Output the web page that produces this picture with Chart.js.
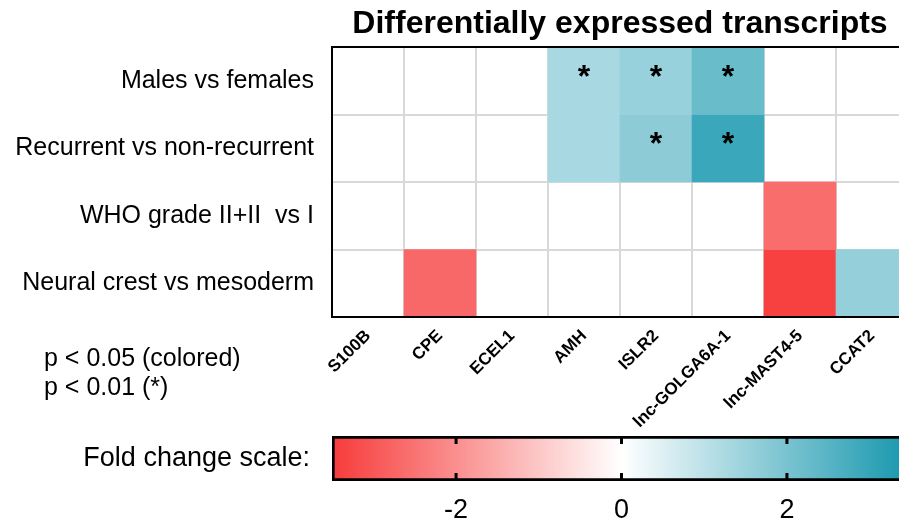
<!DOCTYPE html>
<html>
<head>
<meta charset="utf-8">
<script src="https://cdn.jsdelivr.net/npm/chart.js@4/dist/chart.umd.min.js"></script>
<style>
  body { margin: 0; width: 899px; height: 525px; overflow: hidden; background: #fff; position: relative; font-family: "Liberation Sans", Arial, sans-serif; }
  #heat { position: absolute; left: 0; top: 0; }
  #scale { position: absolute; left: 0; top: 432px; }
  .note { position: absolute; left: 44px; font-size: 25px; line-height: 29px; color: #000; white-space: pre; }
</style>
</head>
<body>
<canvas id="heat" width="915" height="432"></canvas>
<canvas id="scale" width="915" height="93"></canvas>
<div class="note" style="top:343px">p &lt; 0.05 (colored)</div>
<div class="note" style="top:372px">p &lt; 0.01 (*)</div>
<script>
// transcripts and comparisons
const genes = ["S100B", "CPE", "ECEL1", "AMH", "ISLR2", "lnc-GOLGA6A-1", "lnc-MAST4-5", "CCAT2"];
const comparisons = ["Males vs females", "Recurrent vs non-recurrent", "WHO grade II+II  vs I", "Neural crest vs mesoderm"];

// fold change (null = not significant)
const malesFC     = [null, null, null, 1.3, 1.55, 2.25, null, null];
const recurrentFC = [null, null, null, 1.3, 1.7, 2.95, null, null];
const whoFC       = [null, null, null, null, null, null, -2.6, null];
const neuralFC    = [null, -2.7, null, null, null, null, -3.4, 1.6];

// p < 0.01 marks
const malesStar     = [0, 0, 0, 1, 1, 1, 0, 0];
const recurrentStar = [0, 0, 0, 0, 1, 1, 0, 0];
const whoStar       = [0, 0, 0, 0, 0, 0, 0, 0];
const neuralStar    = [0, 0, 0, 0, 0, 0, 0, 0];

// colour scale
const scaleMin = -3.5;
const scaleMax = 3.5;
const scaleTicks = [-2, 0, 2];

const RED = [247, 59, 59];
const TEAL = [21, 150, 173];
const FONT = "'Liberation Sans', Arial, sans-serif";

function corDoValor(v) {
    const alvo = v < 0 ? RED : TEAL;
    const f = Math.min(1, Math.abs(v) / scaleMax);
    const c = alvo.map(x => Math.round(255 + (x - 255) * f));
    return `rgb(${c[0]},${c[1]},${c[2]})`;
}

const linhasFC = [malesFC, recurrentFC, whoFC, neuralFC];
const linhasStar = [malesStar, recurrentStar, whoStar, neuralStar];

const datasets = linhasFC.map((linha, r) => ({
    label: comparisons[r],
    data: linha.map(v => v === null ? null : [r, r + 1]),
    backgroundColor: linha.map(v => v === null ? "#fff" : corDoValor(v)),
    borderWidth: 0,
    barPercentage: 1,
    categoryPercentage: 1,
    grouped: false
}));

const molduraEStars = {
    id: "molduraEStars",
    afterDraw(chart) {
        const ctx = chart.ctx;
        const a = chart.chartArea;
        ctx.save();
        ctx.fillStyle = "#000";
        ctx.font = "bold 32px " + FONT;
        ctx.textAlign = "center";
        ctx.textBaseline = "middle";
        linhasStar.forEach((linha, r) => {
            const meta = chart.getDatasetMeta(r);
            linha.forEach((s, c) => {
                if (!s) return;
                const bar = meta.data[c];
                ctx.fillText("*", bar.x, (bar.y + bar.base) / 2 - 3);
            });
        });
        ctx.strokeStyle = "#000";
        ctx.lineWidth = 2;
        ctx.strokeRect(a.left, a.top, a.right - a.left, a.bottom - a.top);
        ctx.restore();
    }
};

new Chart(document.getElementById("heat"), {
    type: "bar",
    data: { labels: genes, datasets },
    options: {
        responsive: false,
        animation: false,
        layout: { padding: { left: 0, right: 7, top: 0, bottom: 0 } },
        plugins: {
            legend: { display: false },
            tooltip: { enabled: false },
            title: {
                display: true,
                text: "Differentially expressed transcripts",
                fullSize: false,
                color: "#000",
                font: { family: FONT, size: 32, weight: "bold", lineHeight: 1.2 },
                padding: { top: 5, bottom: 3.6 }
            }
        },
        scales: {
            x: {
                z: 1,
                offset: true,
                grid: { offset: true, color: "#d9d9d9", lineWidth: 2, drawTicks: false },
                border: { display: false },
                ticks: {
                    color: "#000",
                    font: { family: FONT, size: 17, weight: "bold" },
                    minRotation: 45,
                    maxRotation: 45,
                    padding: 9,
                    autoSkip: false
                },
                afterFit(scale) { scale.height = 115; scale.paddingLeft = 0; scale.paddingRight = 0; }
            },
            y: {
                z: 1,
                min: 0,
                max: 4,
                reverse: true,
                afterBuildTicks(scale) {
                    scale.ticks = [0, 0.5, 1, 1.5, 2, 2.5, 3, 3.5, 4].map(v => ({ value: v }));
                },
                grid: {
                    drawTicks: false,
                    lineWidth: 2,
                    color: (c) => (c.tick && c.tick.value % 1 === 0) ? "#d9d9d9" : "rgba(0,0,0,0)"
                },
                border: { display: false },
                ticks: {
                    color: "#000",
                    padding: 18,
                    font: { family: FONT, size: 25 },
                    callback: (v) => (v % 1 === 0) ? "" : comparisons[Math.floor(v)]
                },
                afterFit(scale) { scale.width = 332; scale.paddingTop = 0; scale.paddingBottom = 0; }
            }
        }
    },
    plugins: [molduraEStars]
});

// fold change colour bar
const marcasEscala = {
    id: "marcasEscala",
    afterDatasetsDraw(chart) {
        const ctx = chart.ctx;
        const a = chart.chartArea;
        const x = chart.scales.x;
        ctx.save();
        ctx.strokeStyle = "#000";
        ctx.lineWidth = 3;
        scaleTicks.forEach(t => {
            const px = x.getPixelForValue(t);
            ctx.beginPath();
            ctx.moveTo(px, a.top);
            ctx.lineTo(px, a.top + 8);
            ctx.moveTo(px, a.bottom);
            ctx.lineTo(px, a.bottom - 8);
            ctx.stroke();
        });
        ctx.restore();
    }
};

new Chart(document.getElementById("scale"), {
    type: "bar",
    data: {
        labels: ["Fold change scale:"],
        datasets: [{
            data: [[scaleMin, scaleMax]],
            backgroundColor(c) {
                const a = c.chart.chartArea;
                if (!a) return "#fff";
                const g = c.chart.ctx.createLinearGradient(a.left, 0, a.right, 0);
                g.addColorStop(0, corDoValor(scaleMin));
                g.addColorStop(0.5, "#fff");
                g.addColorStop(1, corDoValor(scaleMax));
                return g;
            },
            borderColor: "#000",
            borderWidth: 3,
            borderSkipped: false,
            barPercentage: 1,
            categoryPercentage: 1
        }]
    },
    options: {
        indexAxis: "y",
        responsive: false,
        animation: false,
        layout: { padding: { left: 0, right: 4, top: 4, bottom: 0 } },
        plugins: { legend: { display: false }, tooltip: { enabled: false } },
        scales: {
            x: {
                min: scaleMin,
                max: scaleMax,
                afterBuildTicks(scale) {
                    scale.ticks = scaleTicks.map(v => ({ value: v }));
                },
                grid: { display: false },
                border: { display: false },
                ticks: { color: "#000", padding: 5, font: { family: FONT, size: 27 } },
                afterFit(scale) { scale.height = 44; scale.paddingLeft = 0; scale.paddingRight = 0; }
            },
            y: {
                grid: { display: false },
                border: { display: false },
                ticks: { color: "#000", padding: 14, font: { family: FONT, size: 27 } },
                afterFit(scale) { scale.width = 332; scale.paddingTop = 0; scale.paddingBottom = 0; }
            }
        }
    },
    plugins: [marcasEscala]
});
</script>
</body>
</html>
